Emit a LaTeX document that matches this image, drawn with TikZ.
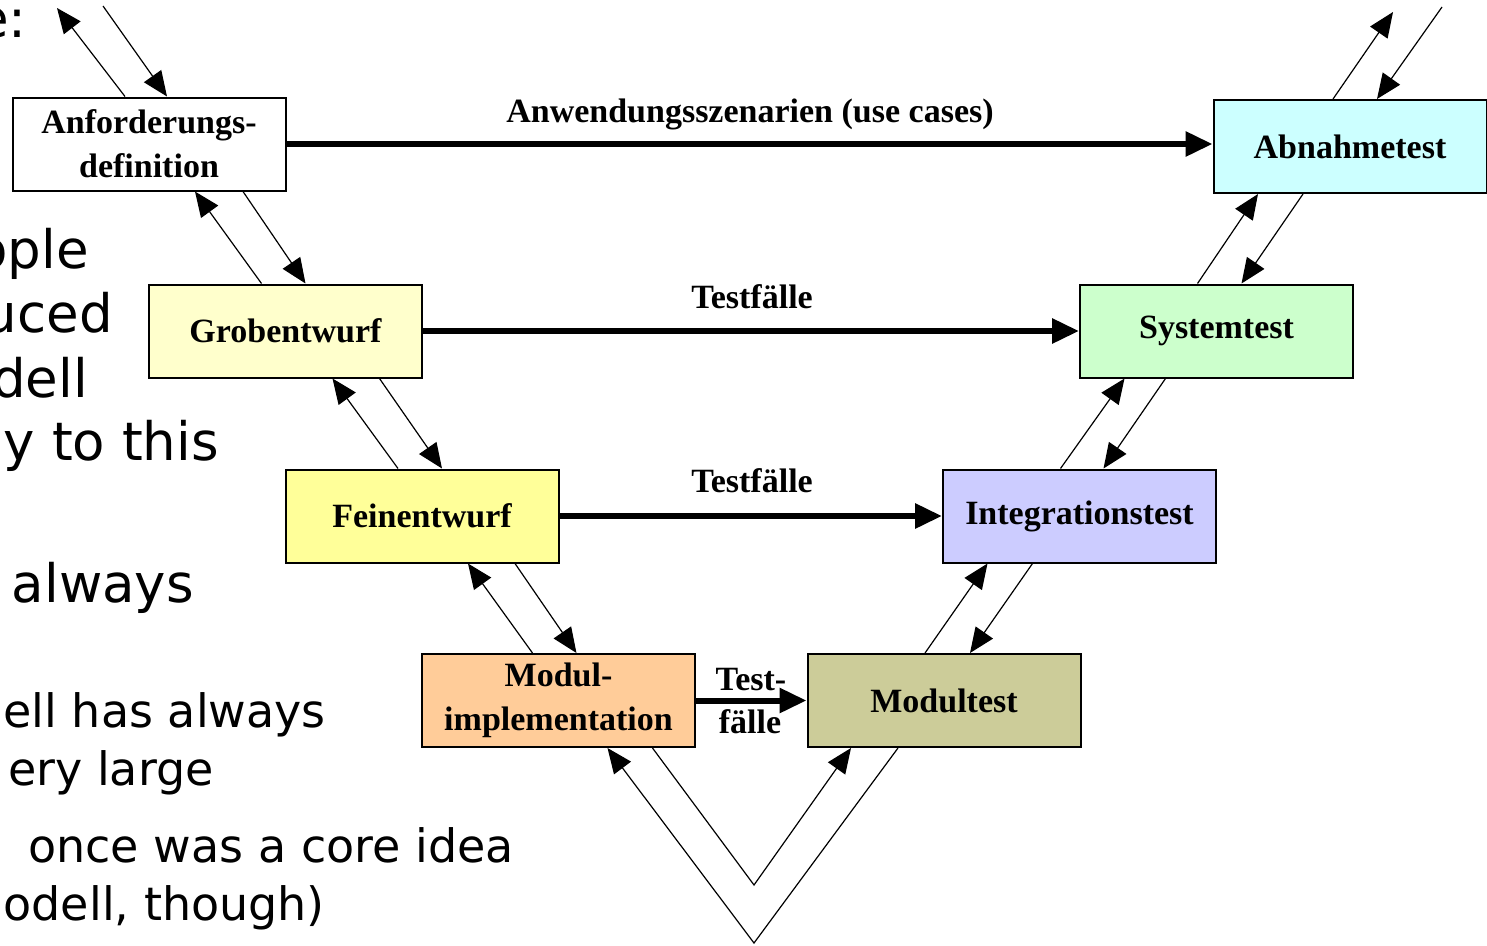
\documentclass[tikz,border=0pt]{standalone}
\usepackage{fontspec}
\setmainfont{Liberation Serif}
\newfontfamily\slidefont{DejaVu Sans}
\usetikzlibrary{arrows.meta}

\definecolor{grobcol}{HTML}{FFFFCC}
\definecolor{feincol}{HTML}{FFFF99}
\definecolor{implcol}{HTML}{FFCC99}
\definecolor{mtestcol}{HTML}{CCCC99}
\definecolor{itestcol}{HTML}{CCCCFF}
\definecolor{stestcol}{HTML}{CCFFCC}
\definecolor{atestcol}{HTML}{CCFFFF}

\tikzset{
	phase/.style={draw, line width=2pt, minimum width=273pt, minimum height=93pt, inner sep=0pt, align=center, font=\fontsize{34}{44}\selectfont\bfseries},
	flow/.style={line width=6pt, -{Triangle[length=27pt,width=24pt]}},
	back/.style={line width=1.2pt, -{Triangle[length=25pt,width=21pt]}},
	lbl/.style={inner sep=0pt, anchor=base, font=\fontsize{34}{44}\selectfont\bfseries},
	bigline/.style={inner sep=0pt, anchor=base east, font=\slidefont\fontsize{53}{62}\selectfont},
	smallline/.style={inner sep=0pt, anchor=base east, font=\slidefont\fontsize{46}{55}\selectfont}
}

\begin{document}
\begin{tikzpicture}[x=1pt,y=-1pt]
	\useasboundingbox (0,0) rectangle (1487,945);
	\clip (0,0) rectangle (1487,945);

	\node[bigline] (s1) at (27,37) {e:};
	\node[bigline] (s2) at (89,268) {ople};
	\node[bigline] (s3) at (113,332) {uced};
	\node[bigline] (s4) at (88,397) {dell};
	\node[bigline] (s5) at (219,460) {y to this};
	\node[bigline] (s6) at (194,602) {always};
	\node[smallline] (s7) at (326,727) {ell has always};
	\node[smallline] (s8) at (214,785) {ery large};
	\node[smallline] (s9) at (514,862) {once was a core idea};
	\node[smallline] (s10) at (325,920) {odell, though)};

	\node[phase, fill=white] (anf) at (149,144) {Anforderungs-\\definition};
	\node[phase, fill=grobcol] (grob) at (285.5,331) {Grobentwurf};
	\node[phase, fill=feincol] (fein) at (422,516) {Feinentwurf};
	\node[phase, fill=implcol] (impl) at (558.5,700.5) {Modul-\\implementation};
	\node[phase, fill=mtestcol] (mtest) at (944,700.5) {Modultest};
	\node[phase, fill=itestcol] (itest) at (1079.5,516) {Integrationstest};
	\node[phase, fill=stestcol] (stest) at (1216.5,331) {Systemtest};
	\node[phase, fill=atestcol] (atest) at (1350,146.5) {Abnahmetest};

	\draw[flow] (anf.east) -- (anf.east -| atest.west);
	\node[lbl] (uselbl) at (750,122) {Anwendungsszenarien (use cases)};
	\draw[flow] (grob.east) -- (stest.west);
	\node[lbl] (tf1) at (752,308) {Testfälle};
	\draw[flow] (fein.east) -- (itest.west);
	\node[lbl] (tf2) at (752,492) {Testfälle};
	\draw[flow] (impl.east) -- (mtest.west);
	\node[lbl] (tf3) at (751,690) {Test-};
	\node[lbl] (tf4) at (750,733) {fälle};

	\coordinate (anfup) at (57,8);
	\coordinate (anfdown) at (103,6);
	\coordinate (atestup) at (1393,12);
	\coordinate (atestdown) at (1442,7);
	\coordinate (vin) at (754,885);
	\coordinate (vout) at (754,943);

	\draw[back] ([xshift=-24pt]anf.north) -- (anfup);
	\draw[back] (anfdown) -- ([xshift=18pt]anf.north);
	\draw[back] ([xshift=-24pt]grob.north) -- ([xshift=46pt]anf.south);
	\draw[back] ([xshift=94pt]anf.south) -- ([xshift=20pt]grob.north);
	\draw[back] ([xshift=-24pt]fein.north) -- ([xshift=47pt]grob.south);
	\draw[back] ([xshift=94pt]grob.south) -- ([xshift=20pt]fein.north);
	\draw[back] ([xshift=-26pt]impl.north) -- ([xshift=46pt]fein.south);
	\draw[back] ([xshift=93pt]fein.south) -- ([xshift=18pt]impl.north);

	\draw[back] ([xshift=94pt]impl.south) -- (vin) -- ([xshift=-93pt]mtest.south);
	\draw[back] ([xshift=-46pt]mtest.south) -- (vout) -- ([xshift=49pt]impl.south);

	\draw[back] ([xshift=-19pt]mtest.north) -- ([xshift=-92pt]itest.south);
	\draw[back] ([xshift=-47pt]itest.south) -- ([xshift=26pt]mtest.north);
	\draw[back] ([xshift=-19pt]itest.north) -- ([xshift=-92pt]stest.south);
	\draw[back] ([xshift=-51pt]stest.south) -- ([xshift=24pt]itest.north);
	\draw[back] ([xshift=-19pt]stest.north) -- ([xshift=-92pt]atest.south);
	\draw[back] ([xshift=-47pt]atest.south) -- ([xshift=25pt]stest.north);
	\draw[back] ([xshift=-17pt]atest.north) -- (atestup);
	\draw[back] (atestdown) -- ([xshift=27pt]atest.north);
\end{tikzpicture}
\end{document}
